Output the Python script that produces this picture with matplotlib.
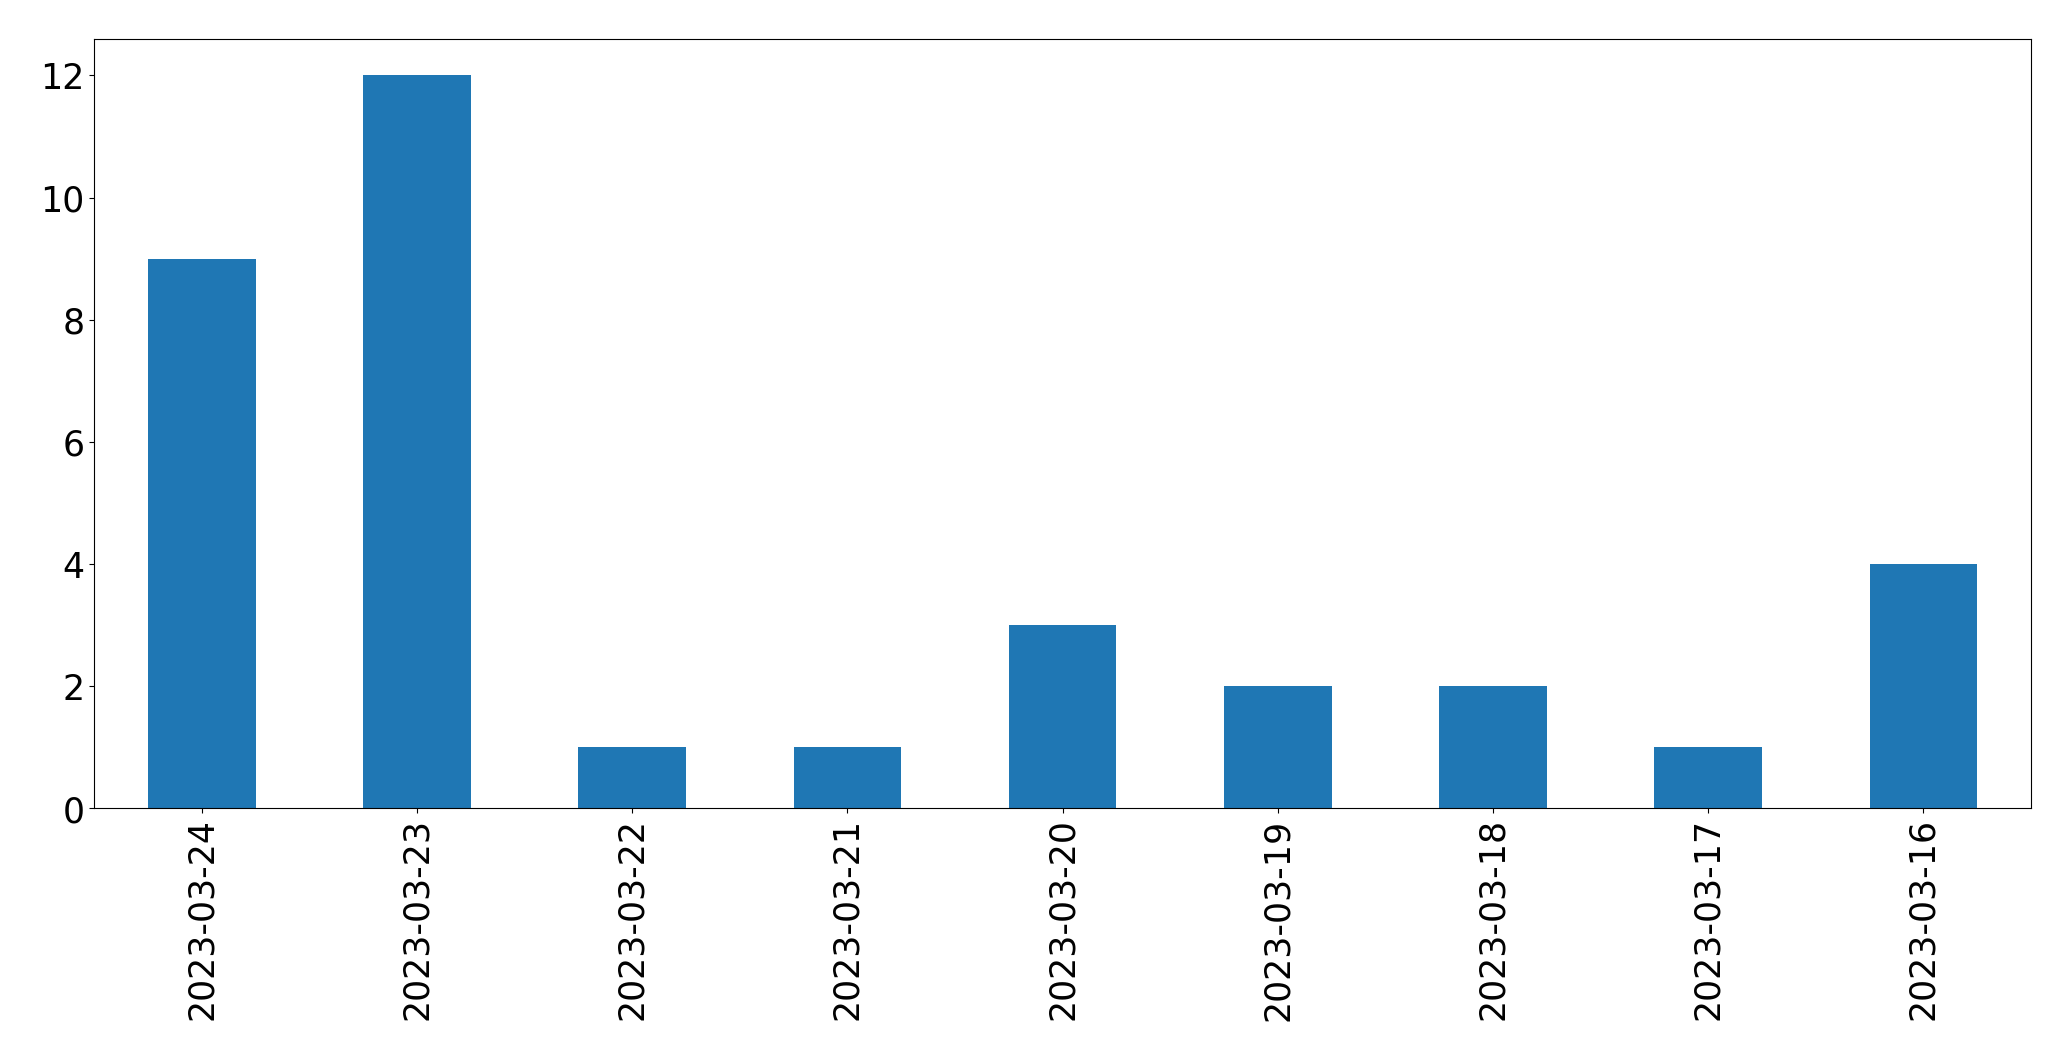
import matplotlib
matplotlib.use('Agg')
import matplotlib.pyplot as plt

dates = ['2023-03-24', '2023-03-23', '2023-03-22', '2023-03-21', '2023-03-20',
         '2023-03-19', '2023-03-18', '2023-03-17', '2023-03-16']
counts = [9, 12, 1, 1, 3, 2, 2, 1, 4]


def main():
    fig, ax = plt.subplots(figsize=(20.71, 10.605), dpi=100)
    x = range(len(dates))
    ax.bar(x, counts, width=0.5, color='#1f77b4')
    ax.set_xlim(-0.5, len(dates) - 0.5)
    ax.set_xticks(list(x))
    ax.set_xticklabels(dates, rotation=90)
    ax.tick_params(labelsize=25)
    fig.subplots_adjust(left=0.0455, right=0.9807, top=0.963, bottom=0.2375)
    fig.savefig('out.png', dpi=100)


if __name__ == "__main__":
    main()
